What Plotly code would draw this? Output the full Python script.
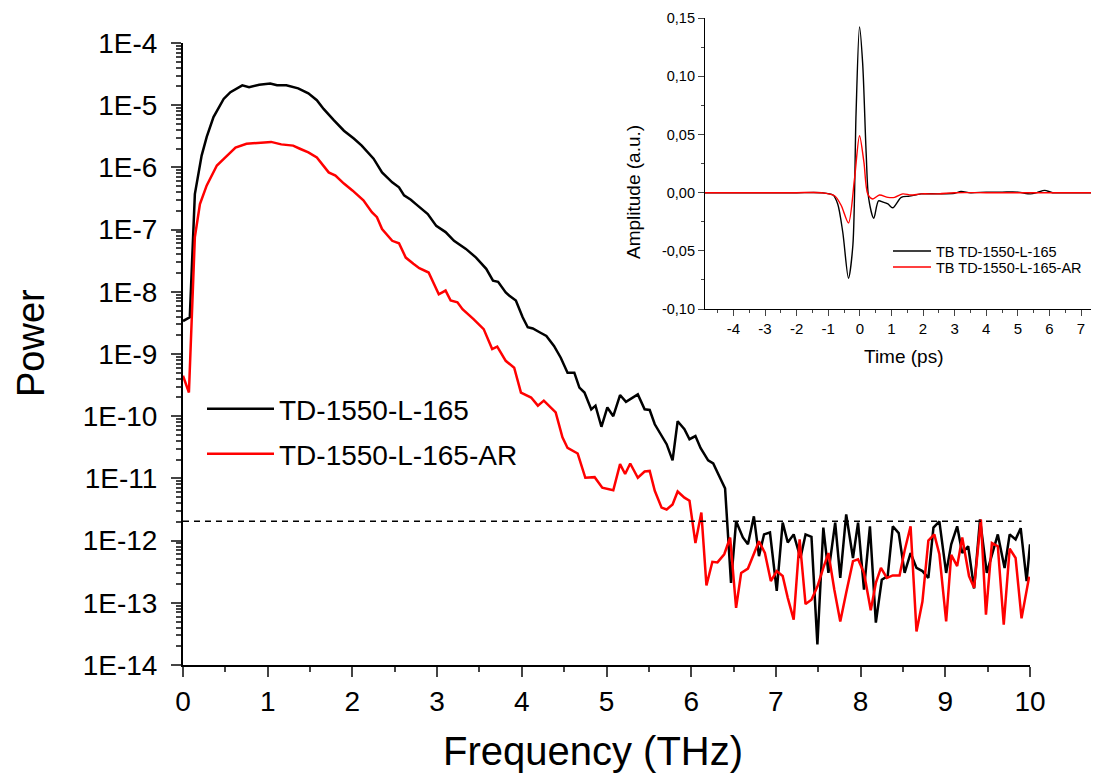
import plotly.graph_objects as go
import numpy as np

# ---------------- main spectrum data (frequency in THz, log10 of power) -------------
black_freq = [0.00, 0.08, 0.14, 0.22, 0.28, 0.36, 0.48, 0.56, 0.70, 0.78, 0.90, 1.03, 1.11, 1.22,
              1.36, 1.48, 1.58, 1.66, 1.78, 1.90, 2.02, 2.11, 2.25, 2.35, 2.47, 2.55, 2.61, 2.69,
              2.75, 2.89, 2.99, 3.10, 3.20, 3.34, 3.46, 3.58, 3.66, 3.72, 3.81, 3.85, 3.93, 4.01,
              4.07, 4.13, 4.21, 4.29, 4.38, 4.46, 4.54, 4.62, 4.68, 4.74, 4.82, 4.87, 4.94, 5.01,
              5.08, 5.16, 5.23, 5.37, 5.45, 5.51, 5.57, 5.65, 5.71, 5.78, 5.84, 5.92, 5.98, 6.05,
              6.11, 6.20, 6.26, 6.34, 6.40, 6.47, 6.53, 6.61, 6.67, 6.74, 6.80, 6.86, 6.93, 7.01,
              7.08, 7.14, 7.21, 7.29, 7.35, 7.42, 7.49, 7.56, 7.62, 7.70, 7.76, 7.83, 7.91, 7.97,
              8.04, 8.11, 8.18, 8.25, 8.32, 8.38, 8.45, 8.52, 8.59, 8.66, 8.73, 8.80, 8.86, 8.93,
              9.01, 9.07, 9.14, 9.20, 9.27, 9.34, 9.41, 9.49, 9.55, 9.62, 9.70, 9.76, 9.83, 9.89,
              9.96, 10.0]
black_log10_power = [-8.47, -8.41, -6.43, -5.81, -5.51, -5.19, -4.90, -4.79, -4.68, -4.71, -4.67, -4.65, -4.68, -4.68,
                     -4.73, -4.81, -4.92, -5.06, -5.24, -5.41, -5.54, -5.65, -5.86, -6.08, -6.24, -6.32, -6.45, -6.52,
                     -6.59, -6.75, -6.94, -7.04, -7.18, -7.31, -7.45, -7.63, -7.82, -7.84, -8.01, -8.06, -8.14, -8.41,
                     -8.57, -8.59, -8.65, -8.71, -8.87, -9.06, -9.30, -9.30, -9.54, -9.62, -9.89, -9.83, -10.17, -9.86,
                     -10.00, -9.66, -9.77, -9.65, -9.89, -9.90, -10.13, -10.32, -10.45, -10.71, -10.08, -10.21, -10.37, -10.32,
                     -10.51, -10.71, -10.76, -10.99, -11.16, -12.68, -11.69, -11.95, -12.06, -11.61, -12.25, -11.90, -11.87, -12.81,
                     -11.71, -12.03, -11.90, -12.28, -11.90, -11.94, -13.67, -11.79, -12.52, -11.71, -12.60, -11.58, -12.28, -11.71,
                     -12.79, -11.77, -13.32, -12.63, -12.57, -11.77, -11.88, -12.52, -12.20, -12.44, -12.49, -12.60, -11.79, -11.69,
                     -12.52, -12.06, -11.77, -12.20, -12.09, -12.77, -11.66, -12.52, -12.25, -11.90, -12.44, -11.90, -11.98, -11.80,
                     -12.65, -12.06]

red_freq = [0.00, 0.07, 0.14, 0.20, 0.28, 0.40, 0.50, 0.62, 0.75, 0.91, 1.04, 1.16, 1.30, 1.38,
            1.48, 1.58, 1.72, 1.80, 1.90, 2.00, 2.13, 2.23, 2.29, 2.35, 2.47, 2.55, 2.63, 2.72,
            2.79, 2.90, 3.02, 3.10, 3.16, 3.24, 3.30, 3.43, 3.55, 3.65, 3.71, 3.81, 3.91, 3.99,
            4.11, 4.19, 4.26, 4.40, 4.48, 4.54, 4.66, 4.75, 4.86, 4.95, 5.08, 5.16, 5.22, 5.28,
            5.37, 5.45, 5.51, 5.57, 5.65, 5.71, 5.78, 5.84, 5.92, 5.98, 6.05, 6.12, 6.18, 6.25,
            6.31, 6.39, 6.46, 6.53, 6.59, 6.67, 6.80, 6.87, 6.94, 7.01, 7.08, 7.14, 7.21, 7.28,
            7.35, 7.42, 7.49, 7.56, 7.62, 7.69, 7.76, 7.83, 7.91, 7.97, 8.04, 8.12, 8.18, 8.24,
            8.31, 8.38, 8.46, 8.52, 8.59, 8.66, 8.73, 8.80, 8.87, 8.93, 9.01, 9.07, 9.14, 9.20,
            9.28, 9.34, 9.42, 9.48, 9.55, 9.62, 9.69, 9.76, 9.83, 9.90, 9.99]
red_log10_power = [-9.35, -9.62, -7.12, -6.59, -6.29, -5.97, -5.84, -5.68, -5.62, -5.61, -5.59, -5.63, -5.65, -5.70,
                   -5.76, -5.84, -6.08, -6.13, -6.26, -6.37, -6.53, -6.72, -6.80, -6.99, -7.18, -7.22, -7.45, -7.55,
                   -7.62, -7.69, -8.04, -7.98, -8.14, -8.17, -8.28, -8.44, -8.60, -8.92, -8.88, -9.11, -9.22, -9.62,
                   -9.70, -9.83, -9.75, -9.94, -10.34, -10.51, -10.60, -10.99, -10.98, -11.15, -11.19, -10.77, -10.93, -10.76,
                   -10.99, -10.89, -10.88, -11.20, -11.47, -11.50, -11.42, -11.21, -11.31, -11.36, -12.04, -11.55, -12.72, -12.34,
                   -12.35, -12.22, -11.95, -13.08, -12.52, -12.45, -12.01, -12.20, -12.65, -12.49, -12.57, -12.92, -13.27, -11.98,
                   -13.02, -12.95, -12.74, -12.44, -12.20, -12.79, -13.30, -12.84, -12.33, -12.30, -12.52, -13.12, -12.68, -12.44,
                   -12.60, -12.56, -12.56, -12.16, -11.77, -13.46, -12.98, -12.00, -11.90, -12.22, -13.30, -12.23, -12.41, -11.95,
                   -12.57, -12.76, -11.66, -13.19, -12.04, -12.09, -13.35, -12.13, -12.28, -13.25, -12.58]

noise_floor_freq = [0.0, 9.9]
noise_floor_power = [2.05e-12, 2.05e-12]

main_names = ["TD-1550-L-165", "TD-1550-L-165-AR"]
y_tick_exponents = [-4, -5, -6, -7, -8, -9, -10, -11, -12, -13, -14]
x_ticks = [0, 1, 2, 3, 4, 5, 6, 7, 8, 9, 10]

# ---------------- inset time-domain data (ps, a.u.) ----------------
black_time = [-4.9, -3.0, -2.0, -1.22, -0.85, -0.70, -0.54, -0.36, -0.22, -0.12, -0.01, 0.09, 0.20, 0.28,
              0.44, 0.59, 0.73, 0.89, 1.04, 1.31, 1.57, 1.94, 2.5, 3.0, 3.2, 3.5, 4.0, 4.5, 5.0, 5.4,
              5.6, 5.85, 6.1, 6.6, 7.6]
black_amp = [0.0, 0.0, 0.0, 0.0, -0.002, -0.0097, -0.034, -0.0735, -0.045, 0.068, 0.1426, 0.111, 0.034, -0.005,
             -0.022, -0.007, -0.008, -0.0097, -0.013, -0.004, -0.003, -0.001, -0.001, -0.0005, 0.001, 0.0, 0.0005, 0.0005, 0.0005, -0.001,
             0.0, 0.002, 0.0, 0.0, 0.0]
red_time = [-4.9, -3.0, -2.0, -1.22, -0.80, -0.59, -0.36, -0.17, -0.01, 0.13, 0.25, 0.41, 0.62, 0.89,
            1.10, 1.36, 1.62, 1.94, 2.5, 3.0, 4.0, 5.0, 6.0, 7.6]
red_amp = [0.0, 0.0, 0.0, 0.0, -0.0026, -0.011, -0.026, 0.0116, 0.049, 0.026, -0.001, -0.0054, -0.002, -0.004,
           -0.004, -0.001, -0.002, -0.001, -0.001, 0.0, 0.0, 0.0, 0.0, 0.0]
inset_names = ["TB TD-1550-L-165", "TB TD-1550-L-165-AR"]
inset_y_ticks = [-0.10, -0.05, 0.0, 0.05, 0.10, 0.15]
inset_y_labels = ["-0,10", "-0,05", "0,00", "0,05", "0,10", "0,15"]
inset_x_ticks = [-4, -3, -2, -1, 0, 1, 2, 3, 4, 5, 6, 7]
inset_x_labels = ["-4", "-3", "-2", "-1", "0", "1", "2", "3", "4", "5", "6", "7"]

FONT = "Liberation Sans, Arial, sans-serif"
W, H = 1099, 777
OFF = 7  # page body margin offset (px)


def px_x(a, b):
    return [(a - OFF) / W, (b - OFF) / W]


def px_y(top, bottom):
    return [(H - (bottom - OFF)) / H, (H - (top - OFF)) / H]


def pxx(x):
    return (x - OFF) / W


def pxy(y):
    return (H - (y - OFF)) / H


black_power = [10 ** v for v in black_log10_power]
red_power = [10 ** v for v in red_log10_power]

fig = go.Figure()
fig.add_trace(go.Scatter(x=black_freq, y=black_power, mode="lines", name=main_names[0],
                         line=dict(color="black", width=2.5), legend="legend"))
fig.add_trace(go.Scatter(x=red_freq, y=red_power, mode="lines", name=main_names[1],
                         line=dict(color="#ff0000", width=2.5), legend="legend2"))
fig.add_trace(go.Scatter(x=noise_floor_freq, y=noise_floor_power, mode="lines", showlegend=False,
                         line=dict(color="black", width=1.5, dash="6px,5px"), hoverinfo="skip"))

fig.add_trace(go.Scatter(x=black_time, y=black_amp, mode="lines", name=inset_names[0], xaxis="x2", yaxis="y2",
                         line=dict(color="black", width=1.4, shape="spline", smoothing=0.8), legend="legend3"))
fig.add_trace(go.Scatter(x=red_time, y=red_amp, mode="lines", name=inset_names[1], xaxis="x2", yaxis="y2",
                         line=dict(color="#ff0000", width=1.4, shape="spline", smoothing=0.8), legend="legend4"))

minor_log = [m * 10.0 ** e for e in range(-14, -4) for m in range(2, 10)]

main_leg = dict(xanchor="left", yanchor="top", bgcolor="rgba(0,0,0,0)",
                font=dict(size=28, family=FONT), itemwidth=67)
inset_leg = dict(xanchor="left", yanchor="top", bgcolor="rgba(0,0,0,0)",
                 font=dict(size=14.5, family=FONT), itemwidth=38)

fig.update_layout(
    width=W, height=H, autosize=False,
    margin=dict(l=0, r=0, t=0, b=0),
    paper_bgcolor="white", plot_bgcolor="white",
    font=dict(family=FONT, color="black"),
    xaxis=dict(domain=px_x(182, 1029), range=[0, 10], showgrid=False, zeroline=False, automargin=False,
               showline=True, linecolor="black", linewidth=2,
               tickmode="array", tickvals=x_ticks, ticks="outside", ticklen=10, tickwidth=2,
               tickfont=dict(size=28, family=FONT), ticklabeloverflow="allow",
               minor=dict(tickvals=[0.5 + i for i in range(10)], ticks="outside", ticklen=5, tickwidth=2)),
    yaxis=dict(domain=px_y(42, 664), type="log", range=[-14, -4], showgrid=False, zeroline=False,
               automargin=False,
               showline=True, linecolor="black", linewidth=2,
               tickmode="array", tickvals=[10.0 ** e for e in y_tick_exponents],
               ticktext=["1E%d" % e for e in y_tick_exponents], ticklabelstandoff=8,
               ticklabeloverflow="allow",
               ticks="outside", ticklen=10, tickwidth=2, tickfont=dict(size=28, family=FONT),
               minor=dict(tickvals=minor_log, ticks="outside", ticklen=5, tickwidth=2)),
    xaxis2=dict(domain=px_x(704, 1099), range=[-4.9, 7.6], anchor="y2", showgrid=False, zeroline=False,
                automargin=False,
                showline=True, linecolor="black", linewidth=1.2,
                tickmode="array", tickvals=inset_x_ticks, ticktext=inset_x_labels,
                ticks="outside", ticklen=6, tickwidth=1.2, ticklabeloverflow="allow",
                tickfont=dict(size=15, family=FONT),
                minor=dict(tickvals=[-4.5 + i for i in range(13)], ticks="outside", ticklen=3, tickwidth=1.2)),
    yaxis2=dict(domain=px_y(17, 308), range=[-0.10, 0.1502], anchor="x2", showgrid=False, zeroline=False,
                automargin=False,
                showline=True, linecolor="black", linewidth=1.2,
                tickmode="array", tickvals=inset_y_ticks, ticktext=inset_y_labels,
                ticklabeloverflow="allow",
                ticks="outside", ticklen=6, tickwidth=1.2, tickfont=dict(size=14.5, family=FONT),
                minor=dict(tickvals=[-0.075 + 0.05 * i for i in range(5)], ticks="outside", ticklen=3, tickwidth=1.2)),
    legend=dict(x=pxx(201), y=pxy(383), **main_leg),
    legend2=dict(x=pxx(201), y=pxy(428), **main_leg),
    legend3=dict(x=pxx(887), y=pxy(234), **inset_leg),
    legend4=dict(x=pxx(887), y=pxy(250), **inset_leg),
    showlegend=True,
    annotations=[
        dict(text="Frequency (THz)", x=pxx(592), y=pxy(750), xref="paper", yref="paper",
             xanchor="center", yanchor="middle", showarrow=False, font=dict(size=40, family=FONT)),
        dict(text="Power", x=pxx(30), y=pxy(342), xref="paper", yref="paper", textangle=-90,
             xanchor="center", yanchor="middle", showarrow=False, font=dict(size=38, family=FONT)),
        dict(text="Time (ps)", x=pxx(903), y=pxy(355), xref="paper", yref="paper",
             xanchor="center", yanchor="middle", showarrow=False, font=dict(size=19, family=FONT)),
        dict(text="Amplitude (a.u.)", x=pxx(632), y=pxy(191), xref="paper", yref="paper", textangle=-90,
             xanchor="center", yanchor="middle", showarrow=False, font=dict(size=19, family=FONT)),
    ],
)

fig.write_html("out.html")
